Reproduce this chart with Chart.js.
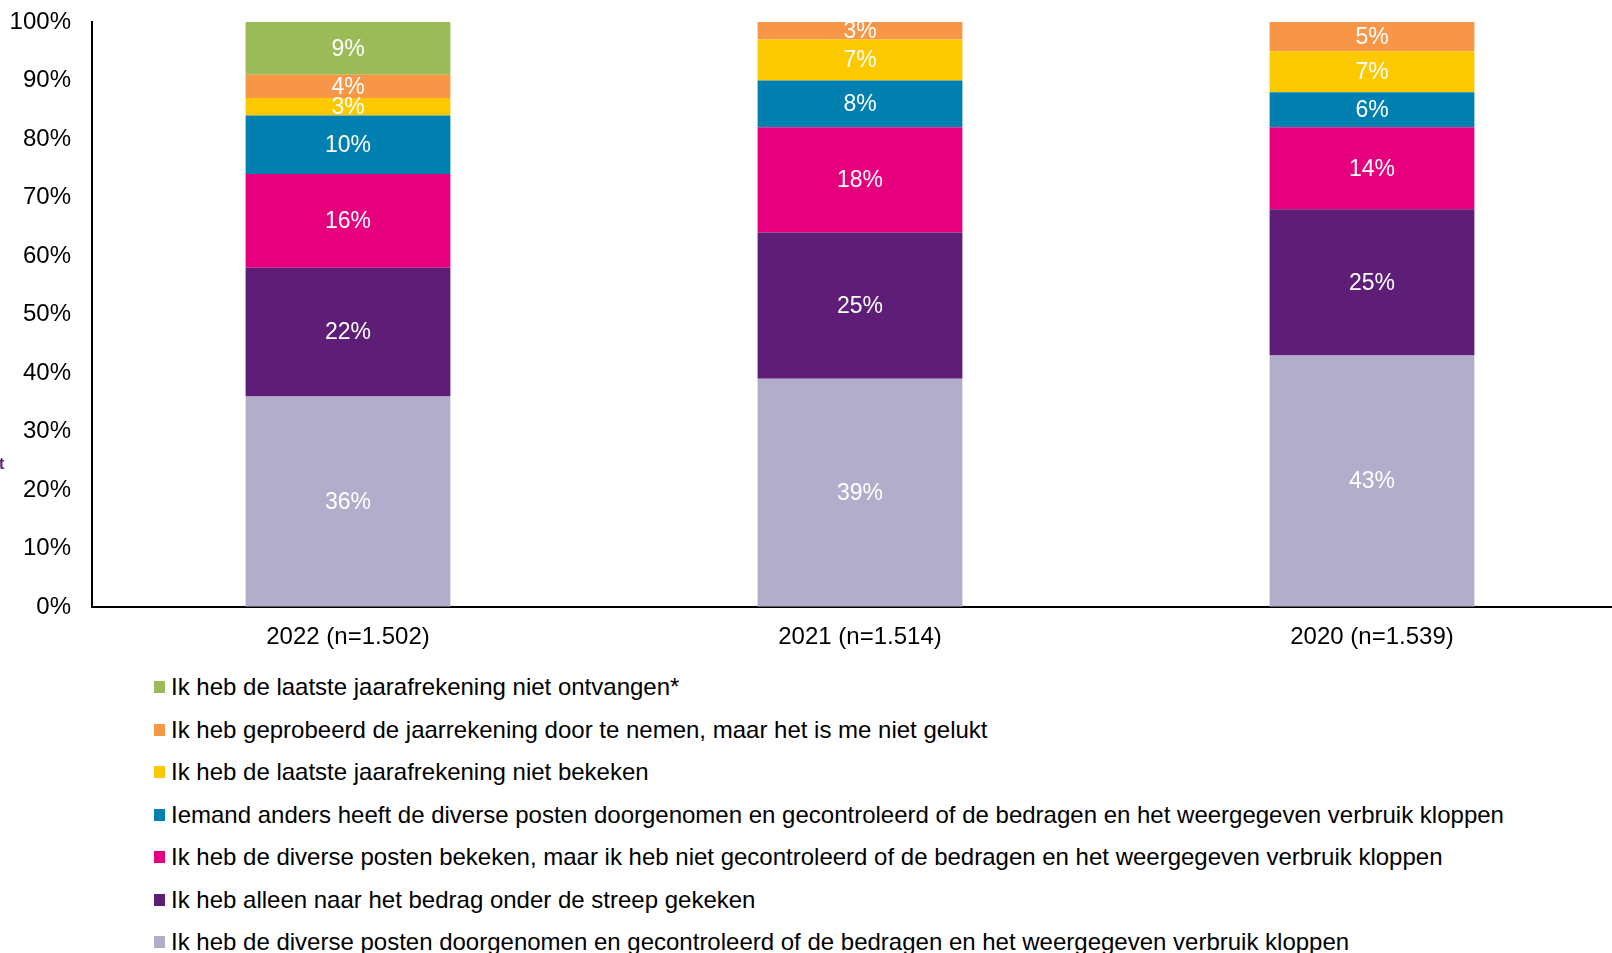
<!DOCTYPE html>
<html lang="nl">
  <head>
    <meta charset="UTF-8" />
    <title>Jaarafrekening</title>
    <script src="https://cdn.jsdelivr.net/npm/chart.js"></script>
    <style>
      body { margin: 0; overflow: hidden; background: #fff; font-family: "Liberation Sans", Arial, sans-serif; }
      #wrap { position: absolute; left: 0; top: 0; width: 1630px; height: 660px; }
      #legend { position: absolute; left: 154px; top: 666px; }
      .row { display: flex; align-items: center; height: 42.5px; font-size: 24px; color: #000; white-space: nowrap; }
      .box { width: 11px; height: 12px; margin-right: 6px; }
      #stray { position: absolute; left: -1px; top: 455px; font-size: 16px; font-weight: bold; color: #5f1f78; }
    </style>
  </head>
  <body>
    <div id="wrap"><canvas id="c"></canvas></div>
    <div id="legend"></div>
    <span id="stray">t</span>
    <script>
      const years = ["2022 (n=1.502)", "2021 (n=1.514)", "2020 (n=1.539)"];
      const yTicks = [0, 10, 20, 30, 40, 50, 60, 70, 80, 90, 100];

      // van onder naar boven gestapeld
      const gecontroleerd = [36, 39, 43];
      const alleenBedrag = [22, 25, 25];
      const bekekenNietGecontroleerd = [16, 18, 14];
      const iemandAnders = [10, 8, 6];
      const nietBekeken = [3, 7, 7];
      const nietGelukt = [4, 3, 5];
      const nietOntvangen = [9, null, null];

      const series = [
        { label: "Ik heb de diverse posten doorgenomen en gecontroleerd of de bedragen en het weergegeven verbruik kloppen", data: gecontroleerd, color: "#b1adcb" },
        { label: "Ik heb alleen naar het bedrag onder de streep gekeken", data: alleenBedrag, color: "#5e1e78" },
        { label: "Ik heb de diverse posten bekeken, maar ik heb niet gecontroleerd of de bedragen en het weergegeven verbruik kloppen", data: bekekenNietGecontroleerd, color: "#e6007e" },
        { label: "Iemand anders heeft de diverse posten doorgenomen en gecontroleerd of de bedragen en het weergegeven verbruik kloppen", data: iemandAnders, color: "#0080b0" },
        { label: "Ik heb de laatste jaarafrekening niet bekeken", data: nietBekeken, color: "#fcc800" },
        { label: "Ik heb geprobeerd de jaarrekening door te nemen, maar het is me niet gelukt", data: nietGelukt, color: "#f79646" },
        { label: "Ik heb de laatste jaarafrekening niet ontvangen*", data: nietOntvangen, color: "#9bbb59" },
      ];

      const font = "Liberation Sans, Arial, sans-serif";

      const valueLabels = {
        id: "valueLabels",
        afterDatasetsDraw(chart) {
          const ctx = chart.ctx;
          ctx.save();
          ctx.fillStyle = "#fff";
          ctx.font = "23px " + font;
          ctx.textAlign = "center";
          ctx.textBaseline = "middle";
          chart.data.datasets.forEach((ds, i) => {
            chart.getDatasetMeta(i).data.forEach((bar, j) => {
              const v = ds.data[j];
              if (v == null) return;
              ctx.fillText(v + "%", bar.x, (bar.y + bar.base) / 2 + 1);
            });
          });
          ctx.restore();
        },
      };

      const chart = new Chart(document.getElementById("c"), {
        type: "bar",
        data: {
          labels: years,
          datasets: series.map((s) => ({
            label: s.label,
            data: s.data,
            backgroundColor: s.color,
            borderWidth: 0,
            barPercentage: 0.4,
            categoryPercentage: 1,
          })),
        },
        options: {
          responsive: true,
          maintainAspectRatio: false,
          animation: false,
          layout: { padding: { top: 22, right: 2, left: 0, bottom: 0 } },
          plugins: { legend: { display: false }, tooltip: { enabled: false } },
          scales: {
            x: {
              stacked: true,
              grid: { display: false, drawTicks: false },
              border: { display: true, color: "#000", width: 2 },
              ticks: { color: "#000", font: { family: font, size: 24 }, padding: 16, maxRotation: 0 },
              afterFit: (s) => { s.height = 53; },
            },
            y: {
              stacked: true,
              min: yTicks[0],
              max: yTicks[yTicks.length - 1],
              afterBuildTicks: (s) => { s.ticks = yTicks.map((v) => ({ value: v })); },
              grid: { display: true, drawOnChartArea: false, drawTicks: true, tickLength: 21, color: "rgba(0,0,0,0)" },
              border: { display: true, color: "#000", width: 2 },
              ticks: { color: "#000", font: { family: font, size: 24 }, padding: 0, callback: (v) => v + "%" },
              afterFit: (s) => { s.width = 92; },
            },
          },
        },
        plugins: [valueLabels],
      });

      // legenda: bovenste laag eerst
      const legend = document.getElementById("legend");
      chart.data.datasets.slice().reverse().forEach((ds) => {
        const row = document.createElement("div");
        row.className = "row";
        const box = document.createElement("span");
        box.className = "box";
        box.style.background = ds.backgroundColor;
        row.appendChild(box);
        row.appendChild(document.createTextNode(ds.label));
        legend.appendChild(row);
      });
    </script>
  </body>
</html>
